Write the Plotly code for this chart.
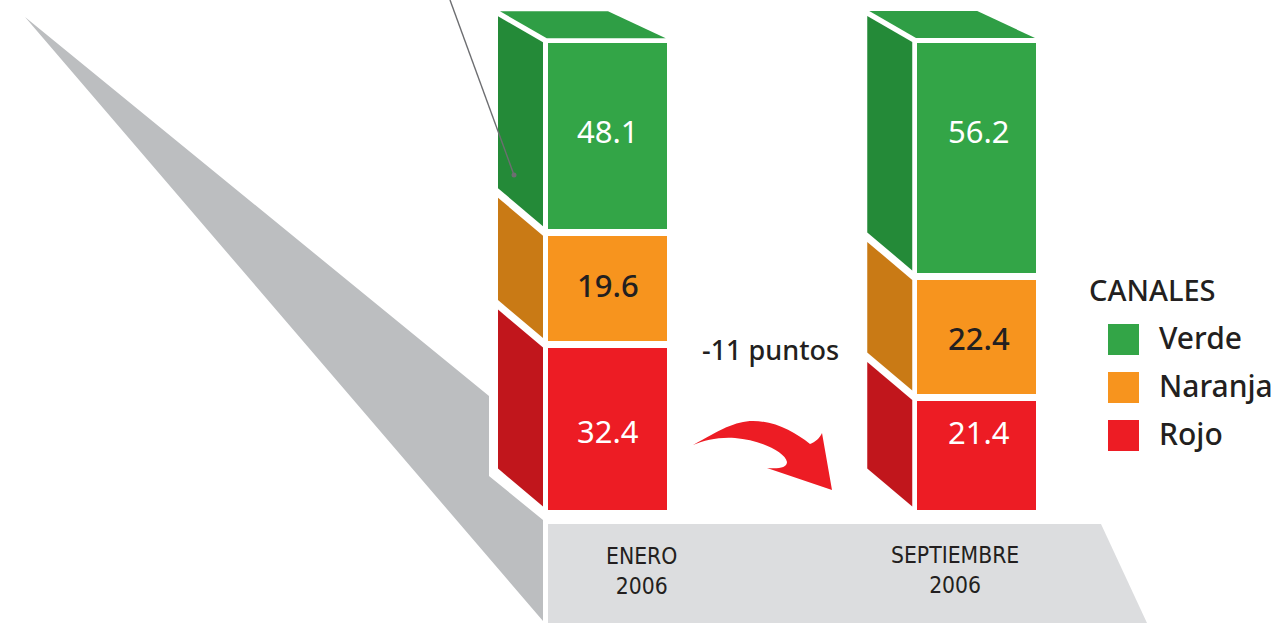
import plotly.graph_objects as go

# ---- data ----
periodos = ["ENERO<br>2006", "SEPTIEMBRE<br>2006"]
canales = ["Verde", "Naranja", "Rojo"]
verde_etiquetas = ["48.1", "56.2"]
naranja_etiquetas = ["19.6", "22.4"]
rojo_etiquetas = ["32.4", "21.4"]
# The source drawing is not to scale: printed labels differ from the drawn
# segment heights, which are read separately from the picture (axis units).
verde_altura = [37.2, 45.75]
naranja_altura = [21.5, 23.1]
rojo_altura = [32.4, 22.3]

# ---- layout constants ----
W, H = 1277, 624
UNIT = 5.2          # px per axis unit
BASE_PX = 513.5     # px of value 0
SPACING = 369.25    # px between bars
CENTER0 = 607.75    # px of first bar centre
DEPTH_L = 109.75    # from bar centre to left edge of side face
DEPTH_R = 64.75     # from bar centre to right edge of side face
RISE = 38

COL = {"Verde": ("#33a547", "#248a38"), "Naranja": ("#f7941e", "#c97a15"), "Rojo": ("#ed1c24", "#c1161c")}
TOP_COL = "#2f9e45"
INK = "#231f20"
FONT = "Noto Sans"
NARROW = "DejaVu Sans Condensed"


def px(x, y):
    return x / W, 1 - y / H


def poly(points):
    p = [px(*q) for q in points]
    return "M" + " L".join(f"{a:.5f},{b:.5f}" for a, b in p) + " Z"


fig = go.Figure()
idx = [0, 1]
for name, vals in (("Rojo", rojo_altura), ("Naranja", naranja_altura), ("Verde", verde_altura)):
    fig.add_trace(go.Bar(x=idx, y=vals, name=name, width=125.5 / SPACING,
                         marker=dict(color=COL[name][0], line=dict(color="white", width=7)),
                         showlegend=False, hoverinfo="name+y"))

# side faces and top faces, derived from the stacked heights
for i in idx:
    cum = 0.0
    for name, vals in (("Rojo", rojo_altura), ("Naranja", naranja_altura), ("Verde", verde_altura)):
        lo, hi = cum, cum + vals[i]
        cum = hi
        xl = i - DEPTH_L / SPACING
        xr = i - DEPTH_R / SPACING
        ylo = lo + 7 / UNIT
        yhi = hi - 2.5 / UNIT
        rise = RISE / UNIT
        rise_top = 26 / UNIT if name == "Verde" else rise
        fig.add_trace(go.Scatter(x=[xl, xr, xr, xl, xl],
                                 y=[ylo + rise, ylo, yhi, yhi + rise_top, ylo + rise],
                                 mode="lines", fill="toself", fillcolor=COL[name][1],
                                 line=dict(width=0), showlegend=False, hoverinfo="skip"))
    top = cum
    fig.add_trace(go.Scatter(
        x=[i - 107.75 / SPACING, i + 0.25 / SPACING, i + 58 / SPACING, i - 61 / SPACING, i - 107.75 / SPACING],
        y=[top + 28.5 / UNIT, top + 28.5 / UNIT, top + 1.5 / UNIT, top + 1.5 / UNIT, top + 28.5 / UNIT],
        mode="lines", fill="toself", fillcolor=TOP_COL, line=dict(width=0),
        showlegend=False, hoverinfo="skip"))

shapes = [
    dict(type="path", layer="below", xref="paper", yref="paper", line_width=0, fillcolor="#bcbec0",
         path=poly([(25, 17), (489, 396), (489, 476), (543, 520), (543, 621)])),
    dict(type="path", layer="below", xref="paper", yref="paper", line_width=0, fillcolor="#dcdddf",
         path=poly([(548, 524), (1101, 524), (1147, 623), (548, 623)])),
    dict(type="line", layer="above", xref="paper", yref="paper", line=dict(color="#6d6e71", width=1.4),
         x0=px(450, 0)[0], y0=px(450, 0)[1], x1=px(514, 175)[0], y1=px(514, 175)[1]),
    dict(type="circle", layer="above", xref="paper", yref="paper", line_width=0, fillcolor="#6d6e71",
         x0=px(511.5, 0)[0], x1=px(516.5, 0)[0], y0=px(0, 177.5)[1], y1=px(0, 172.5)[1]),
]


def curve(cmds):
    out = []
    for c, pts in cmds:
        out.append(c + " ".join("{:.5f},{:.5f}".format(*px(*q)) for q in pts))
    return " ".join(out) + " Z"


arrow = curve([
    ("M", [(693, 445)]),
    ("C", [(720, 430), (735, 421), (753, 421)]),
    ("C", [(775, 421), (795, 432), (810, 444)]),
    ("C", [(815, 442), (820, 438), (822, 433)]),
    ("L", [(832, 490)]),
    ("L", [(767, 468)]),
    ("C", [(778, 469), (787, 468), (787, 462)]),
    ("C", [(785, 452), (760, 440), (735, 438)]),
    ("C", [(718, 437), (705, 440), (693, 445)]),
])
shapes.append(dict(type="path", layer="above", xref="paper", yref="paper", line_width=0,
                   fillcolor="#ed1c24", path=arrow))

# legend swatches
for name, (y0, y1) in zip(canales, [(324, 355), (372, 403), (420, 451)]):
    shapes.append(dict(type="rect", xref="paper", yref="paper", line_width=0, fillcolor=COL[name][0],
                       x0=px(1108, 0)[0], x1=px(1139, 0)[0], y0=px(0, y1)[1], y1=px(0, y0)[1]))

annotations = []


def note(x, y, text, size, color=INK, family=FONT, anchor="center", weight=400):
    ax, ay = px(x, y)
    annotations.append(dict(x=ax, y=ay, xref="paper", yref="paper", text=text, showarrow=False,
                            xanchor=anchor, yanchor="middle", align="center",
                            font=dict(family=family, size=size, color=color, weight=weight)))


label_x = [608, 978.5]
for etiquetas, ys, cols, w in (
    (verde_etiquetas, [131, 131], ["white", "white"], 400),
    (naranja_etiquetas, [285, 338], [INK, INK], 500),
    (rojo_etiquetas, [431, 432], ["white", "white"], 400),
):
    for x, y, t, c in zip(label_x, ys, etiquetas, cols):
        note(x, y, t, 31, color=c, weight=w)

note(770, 349, "-11 puntos", 27, weight=500)
note(641, 570.5, periodos[0], 22.7, family=NARROW)
note(955, 569.5, periodos[1], 22.7, family=NARROW)
note(1087, 289, "CANALES", 29, anchor="left", weight=500)
for name, y in zip(canales, [337, 385, 433]):
    note(1157, y, name, 30, anchor="left", weight=500)

fig.update_layout(
    width=W, height=H, autosize=False, barmode="stack", bargap=0,
    margin=dict(l=0, r=0, t=0, b=0), paper_bgcolor="white", plot_bgcolor="rgba(0,0,0,0)",
    xaxis=dict(visible=False, range=[-CENTER0 / SPACING, (W - CENTER0) / SPACING], fixedrange=True),
    yaxis=dict(visible=False, range=[-(H - BASE_PX) / UNIT, BASE_PX / UNIT], fixedrange=True),
    shapes=shapes, annotations=annotations, showlegend=False,
)

fig.write_html("out.html", config={"displayModeBar": False},
               post_script="document.body.style.margin='0';document.body.style.overflow='hidden';")
